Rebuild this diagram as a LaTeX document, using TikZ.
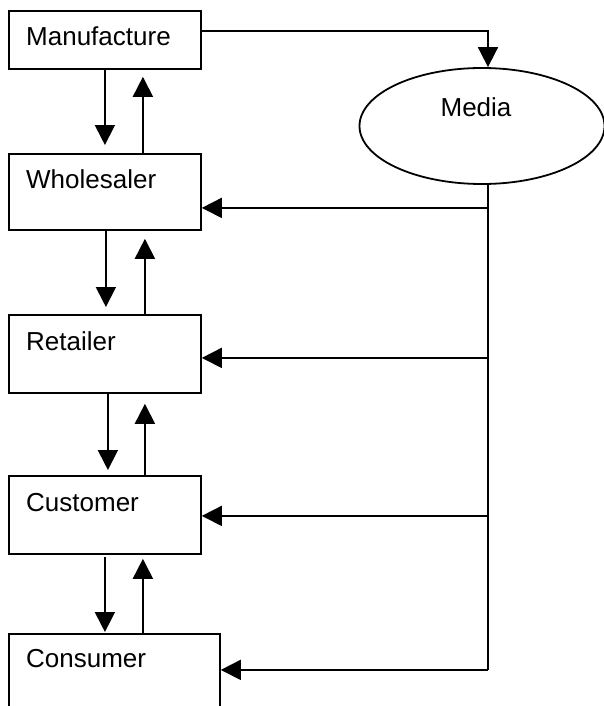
\documentclass[tikz,border=0pt]{standalone}
\usepackage{fontspec}
\setmainfont{Liberation Sans}
\usetikzlibrary{arrows.meta,shapes.geometric}
\begin{document}
\begin{tikzpicture}[x=1pt,y=-1pt,
  box/.style={draw,line width=1.8pt,rectangle,minimum width=192pt,inner sep=0pt,anchor=north west},
  lbl/.style={anchor=base west,inner sep=0pt,font=\fontsize{26}{30}\selectfont},
  arr/.style={line width=1.8pt,-{Triangle[length=20pt,width=20pt]}},
  ln/.style={line width=1.8pt}]
\useasboundingbox (0,0) rectangle (604,706);
\clip (0,0) rectangle (604,706);
% boxes
\node[box,minimum height=58pt] (man) at (8,10) {};
\node[box,minimum height=76pt] (whole) at (8,153) {};
\node[box,minimum height=78pt] (ret) at (8,314) {};
\node[box,minimum height=78pt] (cust) at (8,475) {};
\node[box,minimum width=211pt,minimum height=100pt] (cons) at (8,633) {};
% labels
\node[lbl] (manT) at (26,46) {Manufacture};
\node[lbl] (wholeT) at (26,188) {Wholesaler};
\node[lbl] (retT) at (26,350) {Retailer};
\node[lbl] (custT) at (26,511) {Customer};
\node[lbl] (consT) at (26,667) {Consumer};
% media
\node[draw,ellipse,line width=1.8pt,minimum width=245pt,minimum height=116pt,inner sep=0pt] (media) at (482,126) {};
\node[anchor=base,inner sep=0pt,font=\fontsize{26}{30}\selectfont] (mediaT) at (476,117) {Media};
% manufacture to media
\draw[arr] ([yshift=9pt]man.east) -| ([xshift=6pt]media.north);
% vertical arrows
\draw[arr,shorten >=8pt] ([xshift=0pt]man.south) -- ([xshift=0pt]whole.north);
\draw[arr,shorten >=7pt] ([xshift=38pt]whole.north) -- ([xshift=38pt]man.south);
\draw[arr,shorten >=7pt] ([xshift=1pt]whole.south) -- ([xshift=1pt]ret.north);
\draw[arr,shorten >=8pt] ([xshift=40pt]ret.north) -- ([xshift=40pt]whole.south);
\draw[arr,shorten >=5pt] ([xshift=3pt]ret.south) -- ([xshift=3pt]cust.north);
\draw[arr,shorten >=10pt] ([xshift=40pt]cust.north) -- ([xshift=40pt]ret.south);
\draw[arr,shorten >=1pt] ([xshift=0pt,yshift=-2pt]cust.south) -- (cust.south |- cons.north);
\draw[arr,shorten >=4pt] ([xshift=38pt]cust.south |- cons.north) -- ([xshift=38pt]cust.south);
% media bus
\coordinate (bustop) at ([xshift=6pt]media.south);
\coordinate (w1) at ([yshift=-16pt]whole.east);
\coordinate (r1) at ([yshift=-4pt]ret.east);
\coordinate (c1) at ([yshift=-1pt]cust.east);
\coordinate (k1) at ([yshift=14pt]cons.east);
\draw[ln] (bustop) -- (bustop |- k1);
\draw[arr] (bustop |- w1) -- (w1);
\draw[arr] (bustop |- r1) -- (r1);
\draw[arr] (bustop |- c1) -- (c1);
\draw[arr] (bustop |- k1) -- (k1);
\end{tikzpicture}
\end{document}
